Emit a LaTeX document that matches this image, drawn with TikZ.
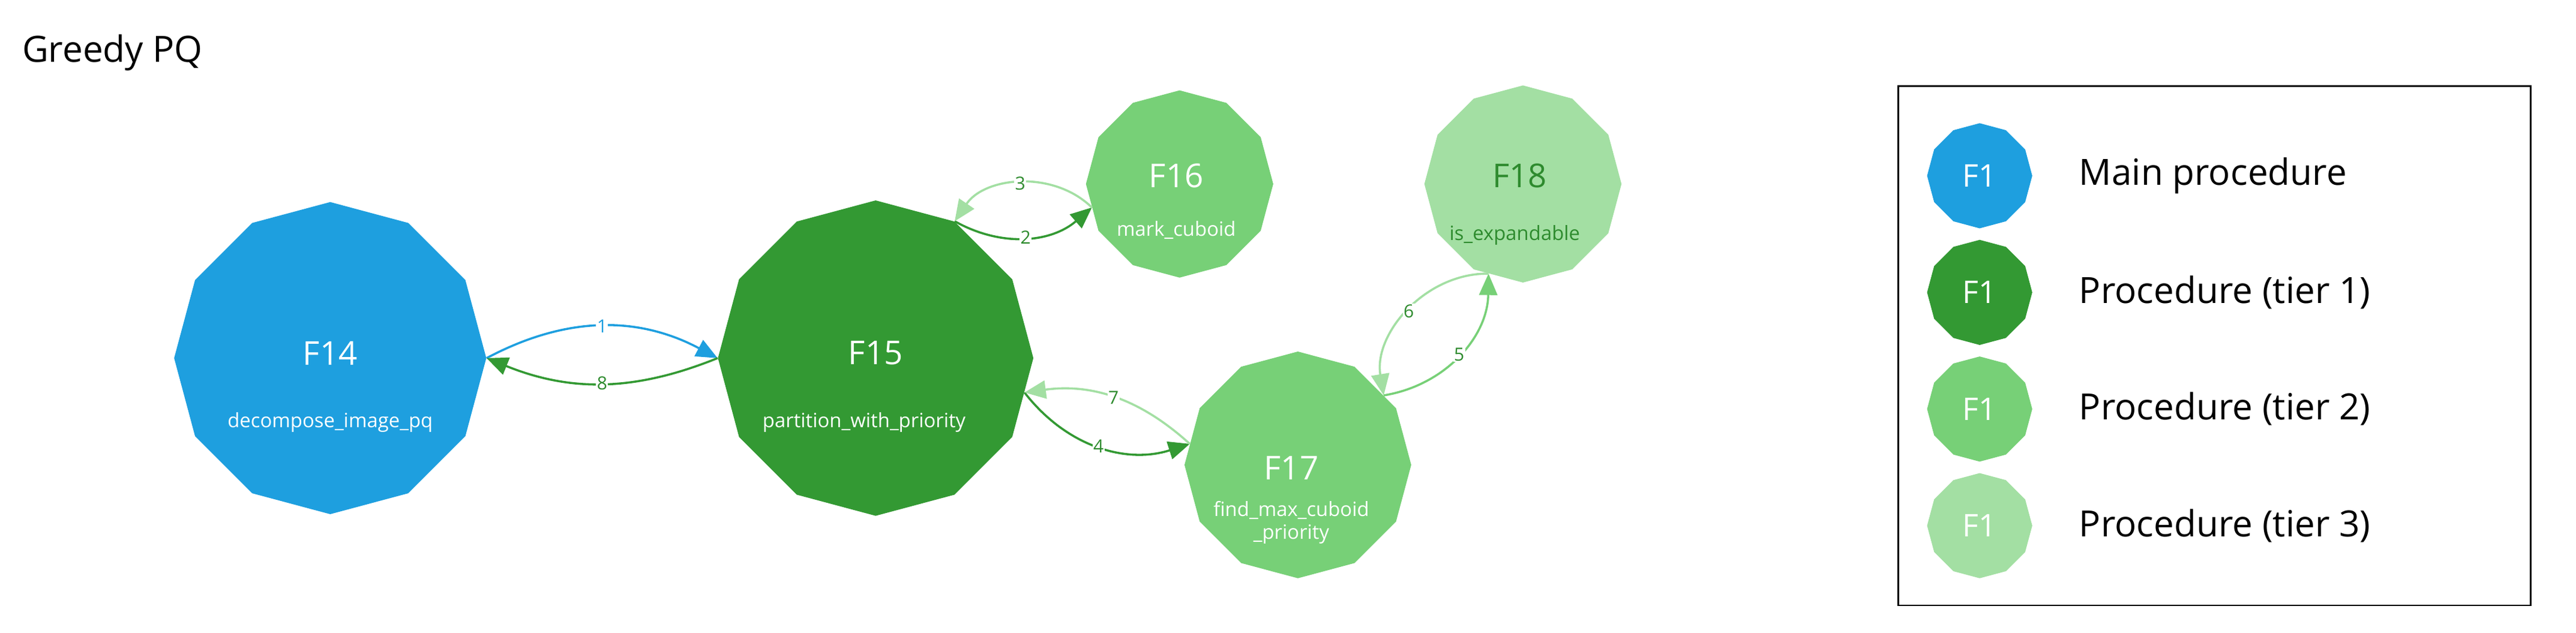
\documentclass[tikz,border=0pt]{standalone}
\usepackage{fontspec}
\setmainfont{Open Sans}
\usetikzlibrary{shapes.geometric,arrows.meta}
\definecolor{cmain}{HTML}{1E9FDF}
\definecolor{ct1}{HTML}{339933}
\definecolor{ct2}{HTML}{77D077}
\definecolor{ct3}{HTML}{A3DFA3}
\definecolor{ctxt}{HTML}{2E8B2E}
\tikzset{
  fn/.style={regular polygon, regular polygon sides=12, shape border rotate=15, inner sep=0pt, draw=none, align=center, text=white},
  big/.style={font=\fontsize{20}{22}\selectfont},
  sub/.style={font=\fontsize{12}{14}\selectfont},
  e/.style={line width=1.3pt, -{Triangle[length=13pt,width=11pt]}},
  lab/.style={fill=white, inner sep=0.5pt, text=ctxt, font=\fontsize{11}{12}\selectfont},
  leg/.style={regular polygon, regular polygon sides=12, shape border rotate=15, inner sep=0pt, minimum size=64pt, text=white, font=\fontsize{19}{20}\selectfont},
  legt/.style={anchor=west, font=\fontsize{22}{24}\selectfont}
}
\begin{document}
\begin{tikzpicture}[x=1pt,y=-1pt]
\useasboundingbox (0,0) rectangle (1568,385);
\node[anchor=west, font=\fontsize{22}{24}\selectfont] (title) at (10,32) {Greedy PQ};

\node[fn, fill=cmain, minimum size=190pt] (F14) at (201,218) {};
\node[big, text=white] at (201,215) {F14};
\node[sub, text=white] at (201,257) {decompose\_image\_pq};

\node[fn, fill=ct1, minimum size=192pt] (F15) at (533,218) {};
\node[big, text=white] at (533,215) {F15};
\node[sub, text=white] at (526,257) {partition\_with\_priority};

\node[fn, fill=ct2, minimum size=114pt] (F16) at (718,112) {};
\node[big, text=white] at (716,107) {F16};
\node[sub, text=white] at (716,140) {mark\_cuboid};

\node[fn, fill=ct3, minimum size=120pt] (F18) at (927,112) {};
\node[big, text=ctxt] at (925,107) {F18};
\node[sub, text=ctxt] at (922,143) {is\_expandable};

\node[fn, fill=ct2, minimum size=138pt] (F17) at (790,283) {};
\node[big, text=white] at (786,285) {F17};
\node[sub, text=white, align=center] at (786,318) {find\_max\_cuboid\\\_priority};

\draw[e, draw=cmain] (F14.0) to[bend left=28] node[lab, text=cmain]{1} (F15.180);
\draw[e, draw=ct1] (F15.180) to[bend left=22] node[lab]{8} (F14.0);
\draw[e, draw=ct1] (F15.60) to[bend right=35] node[lab]{2} (F16.195);
\draw[e, draw=ct3] (F16.195) to[bend right=50] node[lab]{3} (F15.60);
\draw[e, draw=ct1] (F15.-13) to[bend right=35] node[lab]{4} (F17.169);
\draw[e, draw=ct3] (F17.169) to[bend right=25] node[lab]{7} (F15.-13);
\draw[e, draw=ct2] (F17.39) to[bend right=40] node[lab]{5} (F18.-111);
\draw[e, draw=ct3] (F18.-111) to[bend right=50] node[lab]{6} (F17.39);

\node[draw=black, line width=1pt, minimum width=385pt, minimum height=316pt, anchor=north west] (legend) at (1155,52) {};
\node[leg, fill=cmain] (L1) at (1205,107) {F1};
\node[leg, fill=ct1] (L2) at (1205,178) {F1};
\node[leg, fill=ct2] (L3) at (1205,249) {F1};
\node[leg, fill=ct3] (L4) at (1205,320) {F1};
\node[legt] (T1) at (1262,107) {Main procedure};
\node[legt] (T2) at (1262,178) {Procedure (tier 1)};
\node[legt] (T3) at (1262,249) {Procedure (tier 2)};
\node[legt] (T4) at (1262,320) {Procedure (tier 3)};
\end{tikzpicture}
\end{document}
